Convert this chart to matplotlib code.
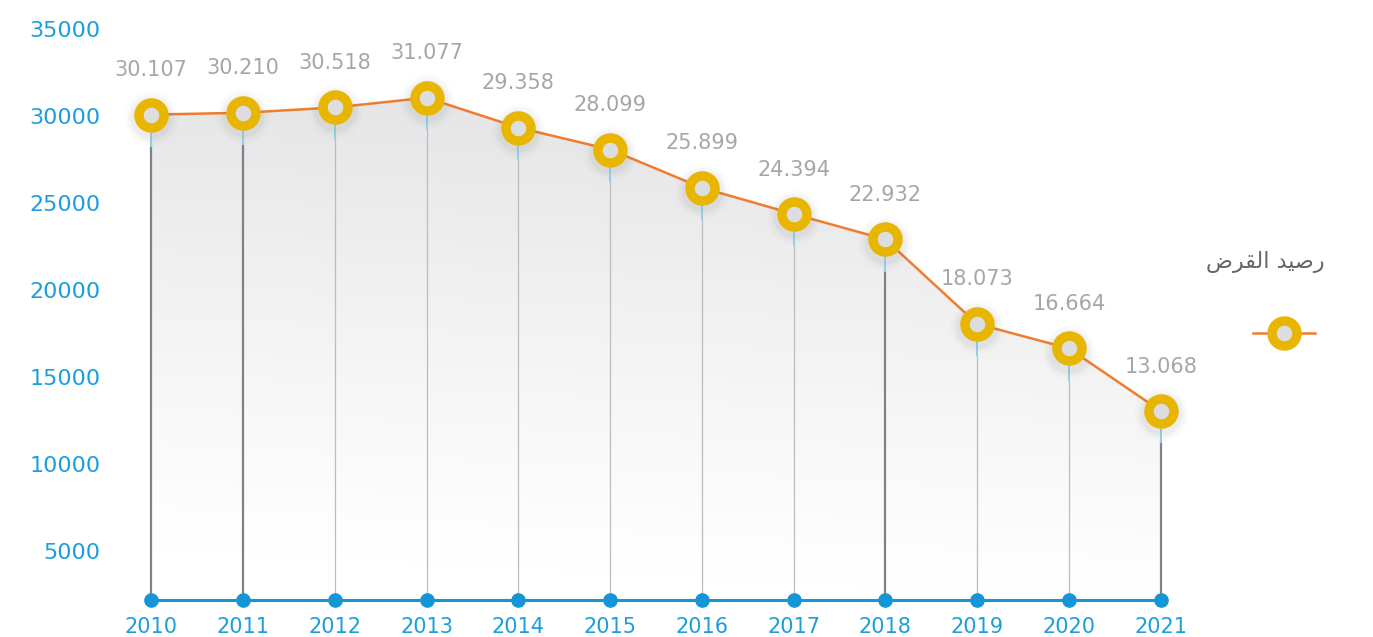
import matplotlib.pyplot as plt
import numpy as np
from matplotlib.lines import Line2D

# data
years = ['2010', '2011', '2012', '2013', '2014', '2015',
         '2016', '2017', '2018', '2019', '2020', '2021']
balance = [30107, 30210, 30518, 31077, 29358, 28099,
           25899, 24394, 22932, 18073, 16664, 13068]
y_ticks = [5000, 10000, 15000, 20000, 25000, 30000, 35000]
dark_drops = ['2010', '2011', '2018', '2021']

# Arabic legend label "رصيد القرض", written in shaped presentation forms
# (visual order) because matplotlib does no Arabic shaping itself
legend_label = '\uFEBD\uFEAE\uFED8\uFEDF\uFE8D \uFEAA\uFEF4\uFEBB\uFEAD'

blue = '#1a9fdc'
orange = '#ef7d2d'
gold = '#e8b600'
base = 2200

x = np.arange(len(years))

fig = plt.figure(figsize=(13.73, 6.37), dpi=100)
ax = fig.add_axes([110/1373, 37/637, 1092/1373, 590/637])

# gradient grey area under the line (lighter towards the bottom-left)
poly = ax.fill_between(x, balance, base, facecolor='none', edgecolor='none')
gy, gx = np.mgrid[0:1:300j, 0:1:300j]
t = np.clip(1.05 * gy + 0.12 * (gx - 0.5) - 0.05, 0, 1)   # 1 at top
shade = 255 - 27 * t ** 1.1
img = np.dstack([shade, shade, shade + 2 * t]) / 255
im = ax.imshow(np.clip(img, 0, 1), extent=(-0.5, 11.5, base, 31500),
               origin='lower', aspect='auto', zorder=1)
im.set_clip_path(poly.get_paths()[0], transform=ax.transData)

# drop lines
for xi, yr, v in zip(x, years, balance):
    dark = yr in dark_drops
    ax.plot([xi, xi], [base, v - 1800], color='#818185' if dark else '#b9bcc0',
            lw=1.6 if dark else 0.9, zorder=2)
    ax.plot([xi, xi], [v - 1800, v], color='#8fd3ef', lw=1.4, zorder=2)

# main line
ax.plot(x, balance, color=orange, lw=1.8, zorder=3)

# soft shadow under the markers
for s, a in [(1500, 0.03), (1150, 0.05), (900, 0.07)]:
    ax.scatter(x, np.array(balance) - 180, s=s, color='#888888', alpha=a,
               lw=0, zorder=4)
ax.plot(x, balance, ls='none', marker='o', ms=18, mew=6.8,
        mfc='#dddddf', mec=gold, zorder=5)

# value labels
for xi, v in zip(x, balance):
    ax.annotate(f'{v:,}'.replace(',', '.'), (xi, v), xytext=(0, 32),
                textcoords='offset points', ha='center', va='center',
                fontsize=15, color='#a6a6a6', zorder=6)

# baseline with dots
ax.plot(x, [base] * len(x), color='#1496d6', lw=2.2, marker='o', ms=9.5,
        clip_on=False, zorder=6)

ax.set_xlim(-0.45, 11.45)
ax.set_ylim(base, 36120)
ax.set_xticks(x, years)
ax.set_yticks(y_ticks, [str(v) for v in y_ticks])
ax.tick_params(axis='x', length=0, pad=12, labelsize=15, labelcolor=blue)
ax.tick_params(axis='y', length=0, pad=7, labelsize=16, labelcolor=blue)
for sp in ax.spines.values():
    sp.set_visible(False)

# legend drawn on the right
fig.text(1325/1373, 1 - 262/637, legend_label, ha='right', va='center',
         fontsize=16, color='#666666', family='DejaVu Sans')
ly = 1 - 333/637
fig.add_artist(Line2D([1253/1373, 1315/1373], [ly, ly], color=orange, lw=1.8,
                      transform=fig.transFigure))
fig.add_artist(Line2D([1284/1373], [ly], ls='none', marker='o', ms=18, mew=6.8,
                      mfc='#dddddf', mec=gold, transform=fig.transFigure))

fig.savefig('out.png', dpi=100)
